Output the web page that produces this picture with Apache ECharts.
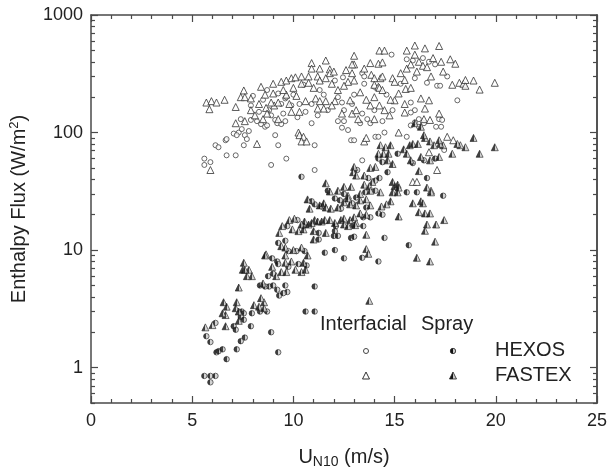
<!DOCTYPE html>
<html>
<head>
    <meta charset="UTF-8">
    <title>Enthalpy Flux</title>
    <script src="https://cdn.jsdelivr.net/npm/echarts@6/dist/echarts.min.js"></script>
</head>
<body style="margin:0">
<div id="main" style="width: 610px;height:474px;"></div>
<script type="text/javascript">
    // [U10 (m/s), flux (W/m2)]
    var fastexInterfacial = [
        [5.7,180],[5.95,185],[6.2,180],[6.6,190],[5.85,158],[7.55,228],[7.4,200],[7.6,200],[7.9,195],[7.15,165],
        [7.9,155],[8.65,162],[9.05,170],[8.9,180],[9.25,180],[9.4,270],[9.65,277],[9.9,290],[10.1,295],[10.4,300],
        [10.75,300],[10.75,265],[10.4,260],[9.0,215],[9.65,210],[10.15,205],[8.6,210],[10.9,390],[10.9,350],[11.6,410],
        [11.8,345],[11.8,320],[11.2,300],[11.6,290],[11.3,277],[10.6,185],[11.1,195],[11.3,185],[11.6,185],[12.05,185],
        [12.8,188],[11.5,160],[11.9,170],[12.9,145],[13.1,155],[13.8,170],[14.25,170],[14.5,155],[13.0,450],[13.0,380],
        [12.9,380],[13.8,390],[14.2,385],[14.4,395],[14.25,498],[14.5,498],[15.6,498],[16.0,550],[16.5,520],[17.2,545],
        [17.75,420],[18.0,385],[12.6,340],[12.9,320],[13.0,277],[12.7,270],[13.85,310],[14.0,290],[14.3,290],[14.4,300],
        [14.9,290],[15.0,270],[15.55,235],[15.8,240],[15.6,350],[16.1,330],[15.8,380],[16.2,400],[16.9,430],[18.9,277],
        [19.95,265],[19.2,232],[17.85,255],[18.2,265],[18.4,260],[18.5,250],[16.7,188],[16.3,195],[15.5,175],[16.5,160],
        [17.2,145],[15.0,188],[14.0,255],[14.2,245],[14.25,240],[14.4,230],[14.75,140],[15.5,148],[7.15,120],[8.2,80],
        [10.25,100],[10.3,95],[10.5,92],[10.4,84],[10.65,84],[13.5,84],[13.6,90],[15.2,100],[17.6,92],[17.9,86],
        [16.7,68],[17.1,48],[15.9,38],[16.1,38],[16.8,32],[16.45,130],[16.75,128],[13.2,130],[14.0,130],[7.6,125],
        [8.5,130],[9.25,130],[5.9,48],[11.0,240],[12.2,230],[12.5,250],[10.0,240],[8.3,175],[9.5,230],[13.3,220],
        [15.2,215],[16.8,300],[17.4,330],[18.5,280],[8.1,140],[9.9,150],[11.9,260],[13.6,190],[15.3,320],[16.4,370],
        [8.4,245],[9.0,260],[9.8,175],[10.3,150],[11.2,160],[12.4,145],[14.0,200],[14.8,190],[15.5,280],[16.6,360],
        [17.3,400],[16.0,460],[13.5,350],[12.0,330],[11.3,350],[8.7,145]
    ];
    var hexosInterfacial = [
        [14.85,460],[15.6,420],[15.9,410],[16.4,430],[16.7,400],[17.0,380],[13.4,320],[13.5,300],[13.5,260],[12.45,295],
        [12.05,277],[16.6,265],[17.1,250],[17.25,250],[18.1,188],[15.8,180],[16.0,155],[9.6,195],[9.65,200],[9.9,170],
        [10.3,175],[10.9,175],[12.4,180],[12.5,155],[13.4,145],[14.0,155],[14.9,155],[15.8,148],[16.2,130],[17.2,130],
        [17.35,128],[13.65,130],[12.2,125],[12.5,125],[7.4,130],[7.9,128],[8.2,125],[9.1,128],[9.6,125],[7.3,100],
        [7.45,107],[7.6,95],[7.8,103],[7.05,98],[7.2,95],[6.65,86],[6.7,88],[6.15,78],[6.3,75],[5.6,60],
        [5.6,53],[5.9,56],[6.7,64],[7.15,64],[7.55,78],[7.7,88],[8.4,118],[8.6,112],[8.7,115],[9.1,95],
        [9.2,120],[9.4,118],[9.25,78],[8.9,53],[9.65,60],[10.9,120],[11.05,78],[11.05,48],[12.4,110],[12.7,105],
        [12.85,86],[13.0,86],[14.05,92],[14.2,92],[14.5,100],[13.3,120],[13.8,120],[14.4,125],[15.6,92],[15.8,115],
        [16.0,122],[16.2,112],[16.45,120],[17.05,112],[17.3,112],[13.4,58],[17.45,71],[9.25,215],[10.0,210],[8.8,155],
        [9.4,175],[11.7,155],[12.9,175],[14.0,245],[10.5,255],[11.3,230],[8.5,190],[7.9,170],[8.3,150],[8.9,140],
        [9.5,145],[10.2,135],[10.6,150],[11.2,140],[8.0,205],[8.7,230],[11.5,210],[12.2,200],[13.0,210],[14.6,210],
        [15.3,260],[16.0,290],[17.6,300]
    ];
    var hexosSpray = [
        [10.4,42],[15.15,66],[14.65,46],[15.6,31],[16.1,31],[17.4,29],[14.2,20.5],[14.4,20],[12.05,27.5],[12.0,13.2],
        [12.2,13.2],[11.55,9.5],[12.05,10],[12.85,12.7],[13.0,13],[14.5,12.7],[12.5,8.5],[13.4,8.6],[14.2,8.0],[11.05,4.9],
        [10.6,3.0],[11.05,3.0],[8.9,2.0],[9.25,1.35],[5.6,0.85],[5.9,0.85],[6.15,0.85],[5.9,0.75],[8.75,6.0],[9.0,6.3],
        [8.8,4.9],[9.0,5.0],[9.2,4.6],[9.6,5.0],[9.7,4.4],[9.3,4.1],[9.5,4.3],[8.35,5.0],[8.6,4.9],[7.95,2.9],
        [8.35,3.0],[8.7,3.0],[7.45,3.0],[7.55,2.9],[7.4,2.7],[7.55,2.55],[7.9,2.25],[7.05,2.25],[7.15,2.1],[6.2,1.35],
        [6.3,1.38],[6.5,1.43],[7.2,1.43],[6.7,1.18],[5.7,1.85],[5.9,1.65],[6.15,2.4],[7.6,1.8],[7.4,1.68],[9.25,11.5],
        [9.6,12],[8.95,8.5],[9.2,8.0],[9.75,9.8],[10.15,9.8],[10.55,9.8],[10.25,7.6],[10.65,7.4],[9.25,7.6],[9.75,7.2],
        [10.2,18],[10.5,16],[9.7,16],[11.25,14],[12.05,14.5],[11.25,12.3],[12.3,26.5],[12.9,25],[13.6,23],[13.8,19],
        [13.45,19],[12.35,22.5],[11.4,23.5],[12.1,16],[12.95,16.3],[13.45,16],[13.15,48],[13.7,41],[14.05,39],[14.2,60],
        [14.4,56],[15.9,55],[16.45,58],[17.0,60],[16.6,41],[15.7,11],[14.25,41],[14.05,32],[13.55,31],[13.1,28],
        [11.7,32],[12.5,30],[11.05,24.5],[10.9,26]
    ];
    var fastexSpray = [
        [19.95,75],[19.2,66],[18.9,90],[18.5,75],[18.25,78],[18.1,80],[17.85,66],[17.4,78],[17.25,80],[16.95,78],
        [17.2,86],[16.75,84],[16.5,90],[16.45,95],[16.3,112],[16.0,120],[15.75,78],[15.9,80],[16.15,80],[15.45,72],
        [15.6,66],[15.8,58],[16.3,62],[16.75,58],[17.2,62],[16.2,47],[16.6,34],[16.8,31],[16.3,26],[16.4,25],
        [15.9,25],[16.2,21],[16.5,20.5],[16.75,20.5],[17.45,18],[16.6,16.5],[17.05,16.5],[16.5,14.6],[17.0,11.8],[15.2,19.3],
        [16.1,8.6],[16.75,8.0],[14.3,78],[14.55,75],[14.8,78],[14.2,66],[14.45,66],[14.7,66],[14.65,58],[14.9,54],
        [13.8,50],[14.05,51],[13.0,51],[12.95,46],[13.1,43],[13.5,43],[13.9,38],[13.5,36],[13.75,35],[14.9,38],
        [15.0,35],[15.15,36],[15.2,34],[14.9,31],[15.15,31],[14.3,31],[14.8,26],[14.6,24.5],[14.35,23.5],[13.3,30],
        [13.8,32],[13.3,26.5],[13.6,27],[12.8,24.5],[13.1,24],[13.8,24],[13.3,20.5],[13.6,20],[13.1,17],[13.6,13.5],
        [12.5,34.5],[12.85,34.5],[12.2,32],[12.7,29],[12.5,25.5],[12.7,27.5],[11.6,37],[11.8,31.5],[11.3,24],[11.5,25],
        [11.6,23],[11.85,22.5],[12.2,23],[11.05,18],[11.2,17.5],[11.4,17.5],[11.55,18],[11.8,18],[12.05,17],[12.35,18],
        [12.5,18.5],[12.8,18],[13.0,19],[12.5,16.5],[12.7,16],[13.05,16.3],[10.7,27],[10.8,22.5],[9.8,18],[10.05,18.5],
        [10.55,17.5],[10.4,16.5],[10.75,16.5],[10.9,17],[9.45,16],[9.95,15],[9.3,14],[10.25,14.5],[10.5,15],[11.0,14.5],
        [11.6,14],[11.0,12.3],[9.4,10.8],[8.65,9.2],[9.6,9],[9.6,10.5],[10.0,10],[10.4,10.5],[10.7,9],[9.9,8],
        [10.5,7.8],[8.95,7.2],[9.6,7.8],[7.55,7.8],[7.5,6.8],[7.8,6.8],[13.6,10.2],[13.7,9.3],[8.6,9],[7.6,6.8],
        [7.95,6.0],[7.7,6.0],[9.15,6.0],[9.4,6.5],[9.65,6.5],[10.1,6.8],[10.4,6.5],[10.6,6.8],[13.75,3.7],[7.3,4.8],
        [6.55,3.6],[6.7,3.3],[6.65,2.8],[6.5,2.9],[7.2,3.6],[7.15,3.2],[7.3,3.0],[7.3,2.5],[8.05,3.4],[8.3,3.3],
        [8.55,3.6],[8.4,3.9],[8.55,3.2],[6.0,2.3],[5.65,2.2],[6.65,2.25],[8.5,5.2]
    ];
    var yLabelValues = [1, 10, 100, 1000];
    var yMinorValues = [0.5, 0.6, 0.7, 0.8, 0.9, 2, 3, 4, 5, 6, 7, 8, 9, 20, 30, 40, 50, 60, 70, 80, 90,
        200, 300, 400, 500, 600, 700, 800, 900];

    var FONT = "'Liberation Sans', Arial, sans-serif";
    var AXIS_COLOR = '#4a4a4a';
    var halfFill = new echarts.graphic.LinearGradient(0, 0, 1, 0, [
        {offset: 0, color: '#111'}, {offset: 0.5, color: '#111'},
        {offset: 0.5, color: '#c8c8c8'}, {offset: 1, color: '#c8c8c8'}
    ]);

    function xAxisOf(pos, showLabel) {
        return {
            type: 'value', position: pos, min: 0, max: 25, interval: 5,
            name: showLabel ? '{u|U}{sub|N10}{u| (m/s)}' : '',
            nameLocation: 'middle', nameGap: 42,
            nameTextStyle: {
                rich: {
                    u: {fontFamily: FONT, fontSize: 20, color: '#222'},
                    sub: {fontFamily: FONT, fontSize: 14, color: '#222', verticalAlign: 'bottom', padding: [10, 0, 0, 0]}
                }
            },
            splitLine: {show: false},
            axisLine: {show: true, onZero: false, lineStyle: {color: AXIS_COLOR, width: 1.5}},
            axisTick: {show: true, inside: true, length: 7, lineStyle: {color: AXIS_COLOR, width: 1.2}},
            minorTick: {show: true, splitNumber: 5, length: 4, lineStyle: {color: AXIS_COLOR, width: 1.2}},
            axisLabel: {show: showLabel, margin: 9, fontFamily: FONT, fontSize: 18, color: '#222'}
        };
    }

    function yAxisOf(pos, ticks, len, showLabel, withName) {
        return {
            type: 'log', logBase: 10, position: pos, min: 0.5, max: 1000,
            name: withName ? 'Enthalpy Flux (W/m{sup|2})' : '',
            nameLocation: 'middle', nameGap: 60,
            nameTextStyle: {
                fontFamily: FONT, fontSize: 20, color: '#222',
                rich: {sup: {fontFamily: FONT, fontSize: 13, color: '#222', verticalAlign: 'top', padding: [0, 0, 10, 0]}}
            },
            splitLine: {show: false},
            axisLine: {show: withName || pos === 'right', lineStyle: {color: AXIS_COLOR, width: 1.5}},
            axisTick: {show: true, inside: true, length: len, customValues: ticks, lineStyle: {color: AXIS_COLOR, width: 1.2}},
            axisLabel: {
                show: showLabel, margin: 8, fontFamily: FONT, fontSize: 18, color: '#222',
                customValues: yLabelValues,
                formatter: function (v) { return String(Math.round(v)); }
            }
        };
    }

    function legendText(x, y, text) {
        return {type: 'text', left: x, top: y,
            style: {text: text, font: '20px ' + FONT, fill: '#222'}};
    }

    echarts.init(document.getElementById('main')).setOption({
        animation: false,
        grid: {left: 91, right: 9, top: 15, bottom: 70},
        xAxis: [xAxisOf('bottom', true), xAxisOf('top', false)],
        yAxis: [
            yAxisOf('left', yLabelValues, 7, true, true),
            yAxisOf('left', yMinorValues, 4, false, false),
            yAxisOf('right', yLabelValues, 7, false, false),
            yAxisOf('right', yMinorValues, 4, false, false)
        ],
        series: [
            {
                name: 'HEXOS Interfacial', type: 'scatter', data: hexosInterfacial,
                symbol: 'circle', symbolSize: 5,
                itemStyle: {color: '#fff', borderColor: '#444', borderWidth: 1}
            },
            {
                name: 'FASTEX Interfacial', type: 'scatter', data: fastexInterfacial,
                symbol: 'triangle', symbolSize: 7,
                itemStyle: {color: '#fff', borderColor: '#333', borderWidth: 1}
            },
            {
                name: 'HEXOS Spray', type: 'scatter', data: hexosSpray,
                symbol: 'circle', symbolSize: 5.5,
                itemStyle: {color: halfFill, borderColor: '#222', borderWidth: 0.8}
            },
            {
                name: 'FASTEX Spray', type: 'scatter', data: fastexSpray,
                symbol: 'triangle', symbolSize: 7,
                itemStyle: {color: halfFill, borderColor: '#222', borderWidth: 0.8}
            }
        ],
        graphic: [
            legendText(320, 314, 'Interfacial'),
            legendText(421, 314, 'Spray'),
            legendText(495, 340, 'HEXOS'),
            legendText(495, 365, 'FASTEX'),
            {type: 'circle', shape: {cx: 366, cy: 351, r: 2.5}, style: {fill: '#fff', stroke: '#444', lineWidth: 1}},
            {type: 'circle', shape: {cx: 453, cy: 351, r: 2.7}, style: {fill: halfFill, stroke: '#222', lineWidth: 0.8}},
            {type: 'polygon', shape: {points: [[366, 372], [362.5, 379], [369.5, 379]]}, style: {fill: '#fff', stroke: '#333', lineWidth: 1}},
            {type: 'polygon', shape: {points: [[453, 372], [449.5, 379], [456.5, 379]]}, style: {fill: halfFill, stroke: '#222', lineWidth: 0.8}}
        ]
    });
</script>
</body>
</html>
